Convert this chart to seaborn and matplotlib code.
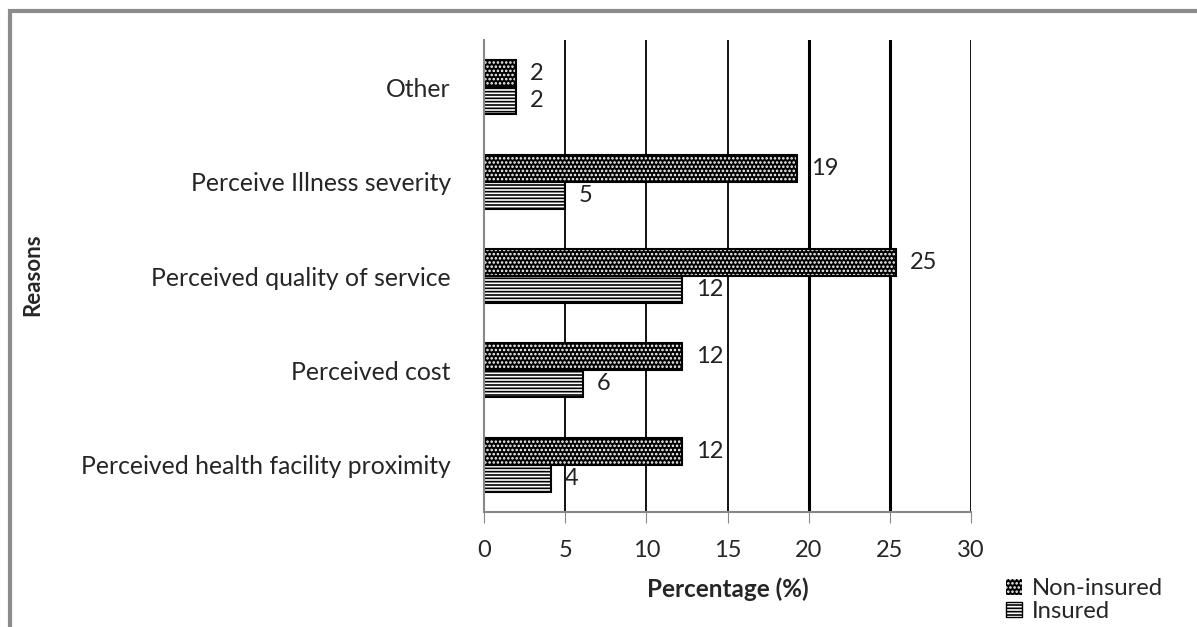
import pandas as pd
import matplotlib.pyplot as plt
import matplotlib.patches as mpatches
import seaborn as sns

# data
reasons = ['Other', 'Perceive Illness severity', 'Perceived quality of service',
           'Perceived cost', 'Perceived health facility proximity']
non_insured = [2.0, 19.3, 25.4, 12.2, 12.2]
insured = [2.0, 5.0, 12.2, 6.1, 4.1]
groups = ['Non-insured', 'Insured']
x_ticks = [0, 5, 10, 15, 20, 25, 30]

df = pd.DataFrame({
    'Reasons': reasons * 2,
    'Percentage': non_insured + insured,
    'Group': [groups[0]] * len(reasons) + [groups[1]] * len(reasons),
})

sns.set_style('white')
plt.rcParams['font.family'] = ['Lato', 'DejaVu Sans']
plt.rcParams['hatch.linewidth'] = 1.2

fig = plt.figure(figsize=(11.97, 6.27), dpi=100)
ax = fig.add_axes([484 / 1197, 1 - 512 / 627, (971 - 484) / 1197, (512 - 40) / 627])

sns.barplot(data=df, y='Reasons', x='Percentage', hue='Group', order=reasons,
            hue_order=groups, orient='h', width=0.57, gap=0, ax=ax, legend=False,
            palette=['black', 'white'], saturation=1)

# style the bars: dotted black for non-insured, striped white for insured
for i, cont in enumerate(ax.containers):
    for p in cont:
        if i == 0:
            p.set_facecolor('black')
            p.set_edgecolor('white')
            p.set_hatch('....')
            p.set_linewidth(0)
        else:
            p.set_facecolor('white')
            p.set_edgecolor('black')
            p.set_hatch('-----')
            p.set_linewidth(1.5)
    ax.bar_label(cont, fmt='%.0f', padding=10, fontsize=17, color='#222222')

# outline for the dotted bars
for p in ax.containers[0]:
    ax.add_patch(mpatches.Rectangle(p.get_xy(), p.get_width(), p.get_height(),
                                    fill=False, edgecolor='black', lw=1.5))

ax.set_xlim(0, 30)
ax.set_xticks(x_ticks)
for xv in x_ticks[1:]:
    ax.axvline(xv, color='black', lw=2.2 if xv in (20, 25) else 1.3, zorder=0)
ax.tick_params(axis='x', direction='out', length=8, color='#888888',
               labelsize=17, pad=12, bottom=True)
ax.tick_params(axis='y', length=0, labelsize=17.8, pad=24)
for s in ['top', 'right']:
    ax.spines[s].set_visible(False)
for s in ['left', 'bottom']:
    ax.spines[s].set_color('#888888')
    ax.spines[s].set_linewidth(1.5)

ax.set_xlabel('Percentage (%)', fontsize=17.5, fontweight='bold', labelpad=12)
ax.set_ylabel('')
fig.text(33 / 1197, 1 - 275 / 627, 'Reasons', rotation=90, fontsize=16,
         fontweight='bold', ha='center', va='center')

# legend in the lower right
h1 = mpatches.Patch(facecolor='black', edgecolor='white', hatch='....', lw=0)
h2 = mpatches.Patch(facecolor='white', edgecolor='black', hatch='-----', lw=1)
fig.legend([h1, h2], groups, loc='upper left',
           bbox_to_anchor=(1006 / 1197, 1 - 578 / 627), frameon=False,
           fontsize=17.2, handlelength=0.65, handleheight=0.65, handletextpad=0.45,
           labelspacing=0.08, borderaxespad=0, borderpad=0)

# grey frame of the original figure
fig.add_artist(mpatches.Rectangle((10 / 1197, -0.1), 1.2, 1 - 11 / 627 + 0.1,
                                  transform=fig.transFigure, fill=False,
                                  edgecolor='#8c8c8c', lw=3))

fig.savefig('out.png', dpi=100)
